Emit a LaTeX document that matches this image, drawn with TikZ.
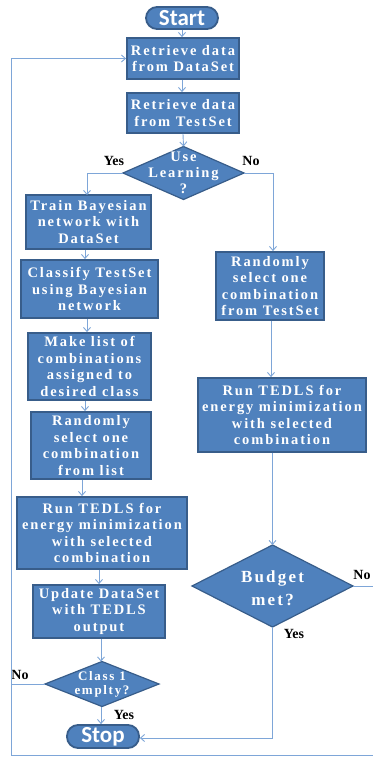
\documentclass[tikz,border=0pt]{standalone}
\usepackage{fontspec}
\setmainfont{Liberation Serif}
\newfontfamily\boxfont[LetterSpace=13]{Liberation Serif}
\newfontfamily\lblfont{Liberation Serif}
\newfontfamily\pillfont{Carlito}
\usetikzlibrary{shapes.geometric,arrows.meta,calc}
\definecolor{boxfill}{HTML}{4F81BD}
\definecolor{boxline}{HTML}{385D8A}
\definecolor{conn}{HTML}{7EA6D8}
\begin{document}
\begin{tikzpicture}[x=1pt,y=-1pt,
  procbox/.style={rectangle, draw=boxline, fill=boxfill, line width=1.8pt, inner sep=0pt,
    text=white, align=center, font=\boxfont\bfseries\fontsize{14.5}{16.5}\selectfont},
  dia/.style={diamond, draw=boxline, fill=boxfill, line width=1.2pt, inner sep=0pt, outer sep=0pt},
  diatext/.style={text=white, align=center, inner sep=0pt},
  pill/.style={rectangle, rounded corners=11pt, draw=boxline, fill=boxfill, line width=1.8pt,
    inner sep=0pt, text=white, font=\pillfont\bfseries\fontsize{23}{23}\selectfont},
  lbl/.style={text=black, inner sep=0pt, font=\lblfont\bfseries\fontsize{14}{14}\selectfont},
  conn/.style={draw=conn, line width=0.9pt},
  arr/.style={conn, -{Straight Barb[length=4pt,width=7pt]}}
]
\useasboundingbox (0,0) rectangle (372,757);

% nodes
\node[pill, minimum width=72pt, minimum height=22pt] (start) at (182,18) {Start};
\node[procbox, minimum width=112pt, minimum height=41pt] (b1) at (183,58.5) {Retrieve data\\from DataSet};
\node[procbox, minimum width=112pt, minimum height=40pt] (b2) at (183,113) {Retrieve data\\from TestSet};
\node[dia, minimum width=121pt, minimum height=53pt] (d1) at (183.5,173) {};
\node[diatext, font=\boxfont\bfseries\fontsize{14.5}{16}\selectfont] at (d1) {Use\\Learning\\?};

\node[procbox, minimum width=125pt, minimum height=54pt] (train) at (88.5,222) {Train Bayesian\\network with\\DataSet};
\node[procbox, minimum width=137pt, minimum height=58pt] (classify) at (89.5,289) {Classify TestSet\\using Bayesian\\network};
\node[procbox, minimum width=123pt, minimum height=67pt] (makelist) at (89.5,366.5) {Make list of\\combinations\\assigned to\\desired class};
\node[procbox, minimum width=120pt, minimum height=67pt] (randl) at (91,445.5) {Randomly\\select one\\combination\\from list};
\node[procbox, minimum width=170pt, minimum height=72pt] (runl) at (102,533) {Run TEDLS for\\energy minimization\\with selected\\combination};
\node[procbox, minimum width=132pt, minimum height=53pt] (update) at (99,611.5) {Update DataSet\\with TEDLS\\output};
\node[dia, minimum width=114pt, minimum height=45pt] (d2) at (102,684) {};
\node[diatext, font=\boxfont\bfseries\fontsize{13}{14}\selectfont] at (d2) {Class 1\\emplty?};
\node[pill, minimum width=72pt, minimum height=23pt] (stop) at (103,736.5) {Stop};

\node[procbox, minimum width=108pt, minimum height=68pt] (randr) at (270,286) {Randomly\\select one\\combination\\from TestSet};
\node[procbox, minimum width=168pt, minimum height=74pt] (runr) at (282,415) {Run TEDLS for\\energy minimization\\with selected\\combination};
\node[dia, minimum width=161pt, minimum height=82pt] (d3) at (272.5,586) {};
\node[diatext, font=\boxfont\bfseries\fontsize{17}{23}\selectfont] at (272.5,588) {Budget\\met?};

% labels
\node[lbl] (lyes1) at (114,161) {Yes};
\node[lbl] (lno1) at (251,161) {No};
\node[lbl] (lno3) at (362,575) {No};
\node[lbl] (lyes3) at (294,634) {Yes};
\node[lbl] (lno2) at (20,675) {No};
\node[lbl] (lyes2) at (124,715) {Yes};

% helper coordinates
\coordinate (lx) at (11,0);
\coordinate (rx) at (375,0);
\coordinate (bot) at (0,755);

% connectors
\draw[arr] (start.south) -- (b1.north -| start.south);
\draw[arr] (b1.south -| start.south) -- (b2.north -| start.south);
\draw[arr] (b2.south) -- (d1.north);
\draw[arr] (d1.west) -| (87,195);
\draw[arr] (train.south -| 85,0) -- (classify.north -| 85,0);
\draw[arr] (classify.south -| 87,0) -- (makelist.north -| 87,0);
\draw[arr] (makelist.south -| 85,0) -- (randl.north -| 85,0);
\draw[arr] (randl.south -| 82,0) -- (runl.north -| 82,0);
\draw[arr] (runl.south -| 99,0) -- (update.north -| 99,0);
\draw[arr] (update.south -| 101,0) -- (d2.north -| 101,0);
\draw[arr] (d2.south -| 101,0) -- (stop.north -| 101,0);
\draw[arr] (d2.west) -- (d2.west -| lx) -- (lx |- b1.west) -- (b1.west);
\draw[arr] (d1.east) -| (randr.north -| 273,0);
\draw[arr] (randr.south -| 271,0) -- (runr.north -| 271,0);
\draw[arr] (runr.south -| d3.north) -- (d3.north);
\draw[conn] (d3.east) -- (d3.east -| rx) -- (rx |- bot) -- (lx |- bot) -- (d2.west -| lx);
\draw[arr] (d3.south) -- (d3.south |- 0,738) -- (stop.east |- 0,738);
\end{tikzpicture}
\end{document}
